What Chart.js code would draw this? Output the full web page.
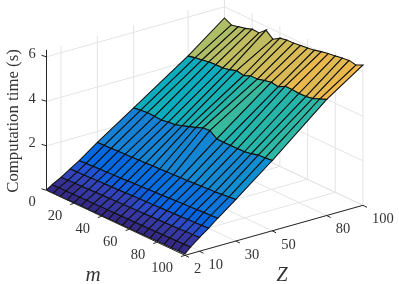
<!DOCTYPE html>
<html>
<head>
<meta charset="utf-8">
<title>Computation time surface</title>
<script src="https://cdn.jsdelivr.net/npm/chart.js@4"></script>
<style>
    html, body { margin: 0; padding: 0; background: #fff; }
    #wrap { position: relative; width: 399px; height: 284px; }
</style>
</head>
<body>
<div id="wrap"><canvas id="surfaceChart"></canvas></div>
<script>
// Grid of the surface
const mValues = [0, 5, 10, 15, 20, 25, 30, 35, 40, 45, 50, 55, 60, 65, 70, 75, 80, 85, 90, 95, 100];
const zValues = [2, 5, 10, 15, 20, 30, 50, 80, 100];

// Computation time (s), one list per Z, in mValues order
const timeZ2   = [0.02, 0.02, 0.02, 0.02, 0.03, 0.03, 0.03, 0.03, 0.03, 0.03, 0.04, 0.04, 0.04, 0.04, 0.04, 0.05, 0.05, 0.05, 0.05, 0.06, 0.06];
const timeZ5   = [0.18, 0.19, 0.19, 0.20, 0.20, 0.21, 0.21, 0.22, 0.22, 0.23, 0.23, 0.24, 0.24, 0.25, 0.25, 0.26, 0.27, 0.27, 0.28, 0.29, 0.30];
const timeZ10  = [0.40, 0.41, 0.42, 0.43, 0.44, 0.45, 0.46, 0.47, 0.48, 0.49, 0.50, 0.51, 0.52, 0.53, 0.54, 0.55, 0.56, 0.57, 0.59, 0.60, 0.62];
const timeZ15  = [0.66, 0.67, 0.68, 0.69, 0.71, 0.72, 0.73, 0.74, 0.75, 0.77, 0.78, 0.79, 0.80, 0.82, 0.83, 0.84, 0.85, 0.87, 0.88, 0.90, 0.92];
const timeZ20  = [0.92, 0.94, 0.95, 0.97, 0.98, 1.00, 1.01, 1.03, 1.05, 1.06, 1.08, 1.10, 1.11, 1.13, 1.15, 1.17, 1.18, 1.20, 1.22, 1.23, 1.25];
const timeZ30  = [1.51, 1.52, 1.53, 1.55, 1.56, 1.57, 1.59, 1.60, 1.62, 1.63, 1.65, 1.66, 1.68, 1.69, 1.71, 1.73, 1.75, 1.77, 1.80, 1.83, 1.87];
const timeZ50  = [2.60, 2.64, 2.68, 2.66, 2.64, 2.69, 2.72, 2.82, 2.93, 3.04, 3.16, 3.19, 2.96, 2.95, 2.96, 2.96, 2.97, 3.03, 3.11, 3.13, 3.16];
const timeZ80  = [4.25, 4.31, 4.36, 4.42, 4.44, 4.44, 4.51, 4.61, 4.54, 4.67, 4.67, 4.75, 4.82, 4.76, 4.93, 4.93, 4.90, 4.91, 4.97, 5.09, 5.22];
const timeZ100 = [5.50, 5.33, 5.40, 5.47, 5.58, 5.56, 5.83, 5.57, 5.76, 5.82, 5.83, 5.87, 5.90, 5.95, 6.03, 6.09, 6.13, 6.18, 6.22, 6.16, 6.31];
const timeRows = [timeZ2, timeZ5, timeZ10, timeZ15, timeZ20, timeZ30, timeZ50, timeZ80, timeZ100];

// Tick labels
const mTicks = [20, 40, 60, 80, 100];
const zTicks = [2, 10, 30, 50, 80, 100];
const tTicks = [0, 2, 4, 6];
const tMax = 6.31;

// MATLAB parula colormap
const parula = [
    [.2081,.1663,.5292],[.2116,.1898,.5777],[.2123,.2138,.6270],[.2081,.2386,.6771],
    [.1959,.2645,.7279],[.1707,.2919,.7792],[.1253,.3242,.8303],[.0591,.3598,.8683],
    [.0117,.3875,.8820],[.0060,.4086,.8828],[.0165,.4266,.8786],[.0329,.4430,.8720],
    [.0498,.4586,.8641],[.0629,.4737,.8554],[.0723,.4887,.8467],[.0779,.5040,.8384],
    [.0793,.5200,.8312],[.0749,.5375,.8263],[.0641,.5570,.8240],[.0488,.5772,.8228],
    [.0343,.5966,.8199],[.0265,.6137,.8135],[.0239,.6287,.8038],[.0231,.6418,.7913],
    [.0228,.6535,.7768],[.0267,.6642,.7607],[.0384,.6743,.7436],[.0590,.6838,.7254],
    [.0843,.6928,.7062],[.1133,.7015,.6859],[.1453,.7098,.6646],[.1801,.7177,.6424],
    [.2178,.7250,.6193],[.2586,.7317,.5954],[.3022,.7376,.5712],[.3482,.7424,.5473],
    [.3953,.7459,.5244],[.4420,.7481,.5033],[.4871,.7491,.4840],[.5300,.7491,.4661],
    [.5709,.7485,.4494],[.6099,.7473,.4337],[.6473,.7456,.4188],[.6834,.7435,.4044],
    [.7184,.7411,.3905],[.7525,.7384,.3768],[.7858,.7356,.3633],[.8185,.7327,.3498],
    [.8507,.7299,.3360],[.8824,.7274,.3217],[.9139,.7258,.3063],[.9450,.7261,.2886],
    [.9739,.7314,.2666],[.9938,.7455,.2403],[.9990,.7653,.2164],[.9955,.7861,.1967],
    [.9880,.8066,.1794],[.9789,.8271,.1633],[.9697,.8481,.1475],[.9626,.8705,.1309],
    [.9589,.8949,.1132],[.9598,.9218,.0948],[.9661,.9514,.0755],[.9763,.9831,.0538]
];

function parulaColor(t) {
    const i = Math.min(63, Math.floor(t / tMax * 64));
    const c = parula[i];
    return `rgb(${Math.round(c[0] * 255)},${Math.round(c[1] * 255)},${Math.round(c[2] * 255)})`;
}

// Flat view of (m, Z, time) on to the page
function project(m, z, t) {
    return {
        x: 46.5 + 1.385 * m + 1.816 * (z - 2),
        y: 190.3 + 0.65 * m - 0.51 * (z - 2) - 22.25 * t
    };
}

function segment(a, b, color, width) {
    return {
        data: [a, b],
        borderColor: color,
        borderWidth: width,
        pointRadius: 0,
        fill: false,
        clip: false
    };
}

function buildDatasets() {
    const sets = [];
    const axisColor = '#262626';
    const gridColor = '#e4e4e4';

    // Axes and ticks go on top, so they come first
    sets.push(segment(project(0, 2, 0), project(0, 2, tMax), axisColor, 1));
    sets.push(segment(project(0, 2, 0), project(100, 2, 0), axisColor, 1));
    sets.push(segment(project(100, 2, 0), project(100, 100, 0), axisColor, 1));
    tTicks.forEach(t => {
        const p = project(0, 2, t);
        sets.push(segment(p, { x: p.x - 5, y: p.y - 1.5 }, axisColor, 1));
    });
    mTicks.forEach(m => {
        const p = project(m, 2, 0);
        sets.push(segment(p, { x: p.x - 4, y: p.y + 1.2 }, axisColor, 1));
    });
    zTicks.forEach(z => {
        const p = project(100, z, 0);
        sets.push(segment(p, { x: p.x + 4, y: p.y + 2 }, axisColor, 1));
    });

    // Surface, nearest faces first
    for (let r = 0; r < zValues.length - 1; r++) {
        for (let c = mValues.length - 2; c >= 0; c--) {
            const z0 = zValues[r], z1 = zValues[r + 1];
            const m0 = mValues[c], m1 = mValues[c + 1];
            const corners = [
                project(m0, z0, timeRows[r][c]),
                project(m1, z0, timeRows[r][c + 1]),
                project(m1, z1, timeRows[r + 1][c + 1]),
                project(m0, z1, timeRows[r + 1][c]),
                project(m0, z0, timeRows[r][c])
            ];
            sets.push({
                data: corners,
                backgroundColor: parulaColor(timeRows[r][c]),
                borderColor: '#111111',
                borderWidth: 1.05,
                pointRadius: 0,
                fill: 'shape',
                clip: false
            });
        }
    }

    // Back walls and floor
    const allM = [0].concat(mTicks);
    allM.forEach(m => {
        sets.push(segment(project(m, 2, 0), project(m, 100, 0), gridColor, 1));
        sets.push(segment(project(m, 100, 0), project(m, 100, tMax), gridColor, 1));
    });
    zTicks.forEach(z => {
        sets.push(segment(project(0, z, 0), project(100, z, 0), gridColor, 1));
        sets.push(segment(project(0, z, 0), project(0, z, tMax), gridColor, 1));
    });
    tTicks.forEach(t => {
        sets.push(segment(project(0, 2, t), project(0, 100, t), gridColor, 1));
        sets.push(segment(project(0, 100, t), project(100, 100, t), gridColor, 1));
    });
    return sets;
}

// Axis labels, placed through the chart's scales
const axisText = {
    id: 'axisText',
    afterDraw(chart) {
        const ctx = chart.ctx;
        const sx = chart.scales.x, sy = chart.scales.y;
        const put = (text, x, y, align, font) => {
            ctx.font = font;
            ctx.textAlign = align;
            ctx.fillText(text, sx.getPixelForValue(x), sy.getPixelForValue(y));
        };
        const tickFont = '14.5px "Liberation Serif"';
        ctx.save();
        ctx.fillStyle = '#333333';
        ctx.textBaseline = 'middle';
        mTicks.forEach(m => {
            const p = project(m, 2, 0);
            put(String(m), p.x - 12, p.y + 13, 'right', tickFont);
        });
        zTicks.forEach(z => {
            const p = project(100, z, 0);
            put(String(z), p.x + 9, p.y + 14, 'left', tickFont);
        });
        tTicks.forEach(t => {
            const p = project(0, 2, t);
            put(String(t), 32, p.y + (t === 0 ? 12 : -2.5), 'center', tickFont);
        });
        put('m', 93, 275, 'center', 'italic 21px "Liberation Serif"');
        put('Z', 282, 276, 'center', 'italic 20px "Liberation Serif"');

        ctx.translate(sx.getPixelForValue(14), sy.getPixelForValue(121));
        ctx.rotate(-Math.PI / 2);
        ctx.font = '16.8px "Liberation Serif"';
        ctx.textAlign = 'center';
        ctx.fillText('Computation time (s)', 0, 0);
        ctx.restore();
    }
};

new Chart(document.getElementById('surfaceChart'), {
    type: 'line',
    data: { datasets: buildDatasets() },
    options: {
        responsive: true,
        maintainAspectRatio: false,
        animation: false,
        events: [],
        layout: { padding: 0 },
        plugins: { legend: { display: false }, tooltip: { enabled: false } },
        elements: { line: { tension: 0 } },
        scales: {
            x: { type: 'linear', min: 0, max: 399, display: false },
            y: { type: 'linear', min: 0, max: 284, reverse: true, display: false }
        }
    },
    plugins: [axisText]
});
</script>
</body>
</html>
